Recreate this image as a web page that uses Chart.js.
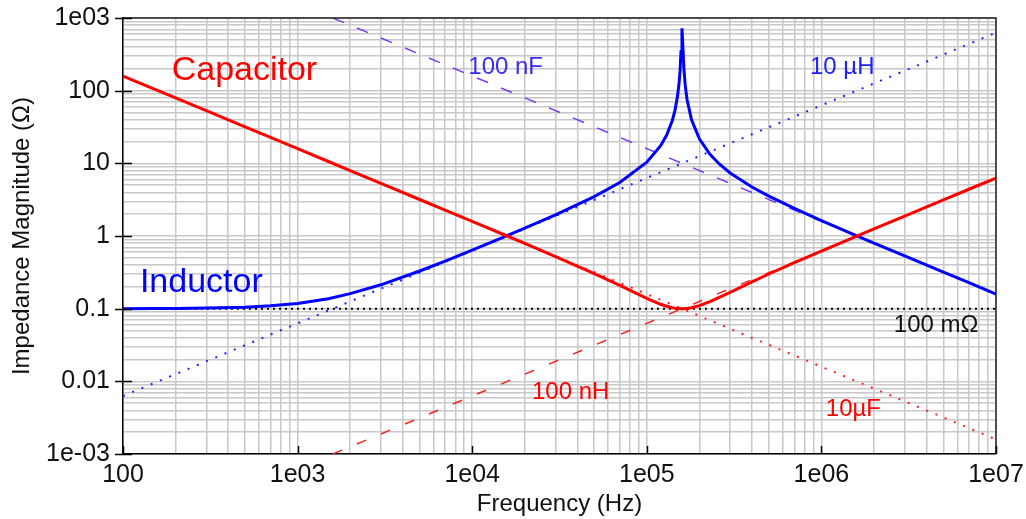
<!DOCTYPE html>
<html>
<head>
<meta charset="utf-8">
<script src="https://cdn.jsdelivr.net/npm/chart.js@4/dist/chart.umd.min.js"></script>
<style>
  html, body { margin: 0; padding: 0; background: #fff; }
  #wrap { width: 1026px; height: 519px; }
</style>
</head>
<body>
<div id="wrap"><canvas id="impChart"></canvas></div>
<script>
// frequency points (Hz) shared by the two real components
const freq = [100, 150, 200, 300, 500, 700, 1e3, 1.5e3, 2e3, 3e3, 5e3, 7e3,
  1e4, 1.5e4, 2e4, 3e4, 5e4, 7e4, 1e5, 1.2e5, 1.3e5, 1.4e5, 1.45e5,
  1.5e5, 1.53e5, 1.55e5, 1.57e5, 1.59e5, 1.61e5, 1.63e5, 1.66e5, 1.7e5, 1.8e5,
  2e5, 2.3e5, 2.6e5, 3e5, 4e5, 5e5, 7e5, 1e6, 1.5e6, 2e6, 3e6, 5e6, 7e6, 1e7];

// |Z| in ohms
const capacitorZ = [159, 106, 79.6, 53.1, 31.8, 22.7, 15.9, 10.6, 7.96, 5.3, 3.18, 2.27,
  1.588, 1.057, 0.789, 0.521, 0.304, 0.209, 0.139, 0.115, 0.108, 0.103, 0.1017,
  0.1007, 0.1003, 0.1001, 0.1, 0.1, 0.1, 0.1001, 0.1004, 0.1009, 0.103,
  0.110, 0.125, 0.143, 0.168, 0.234, 0.30, 0.429, 0.62, 0.937, 1.25, 1.88, 3.14, 4.4, 6.28];
const inductorZ = [0.1, 0.1004, 0.1008, 0.1018, 0.1048, 0.1093, 0.118, 0.137, 0.161, 0.213, 0.33, 0.452,
  0.638, 0.956, 1.28, 1.96, 3.49, 5.45, 10.4, 17.5, 24.5, 38.9, 53.6,
  84.2, 126, 184, 345, 720, 398, 206, 118, 75.7, 40.5,
  21.7, 13.3, 9.79, 7.38, 4.73, 3.54, 2.4, 1.63, 1.073, 0.80, 0.532, 0.319, 0.2275, 0.159];

// ideal element lines (two end points each)
const l10uHFreq = [100, 1e7];
const l10uHZ = [0.00628, 628];
const c100nFFreq = [1592, 1e7];
const c100nFZ = [1000, 0.159];
const c10uFFreq = [100, 1e7];
const c10uFZ = [159, 0.00159];
const l100nHFreq = [1592, 1e7];
const l100nHZ = [0.001, 6.28];
const r100mFreq = [100, 1e7];
const r100mZ = [0.1, 0.1];

// axis decades and their labels
const xDecades = [1e2, 1e3, 1e4, 1e5, 1e6, 1e7];
const xTickLabels = ['100', '1e03', '1e04', '1e05', '1e06', '1e07'];
const yDecades = [1e-3, 1e-2, 1e-1, 1, 10, 100, 1e3];
const yTickLabels = ['1e-03', '0.01', '0.1', '1', '10', '100', '1e03'];

const FONT = "'Liberation Sans', Arial, sans-serif";

function pts(xs, ys) {
  return xs.map((x, i) => ({ x: x, y: ys[i] }));
}

// every 1..9 x 10^k line between the decades
function logTicks(decades) {
  const out = [];
  const max = decades[decades.length - 1];
  decades.forEach(d => {
    for (let k = 1; k <= 9; k++) {
      const v = k * d;
      if (v <= max * 1.0000001) out.push({ value: v });
    }
  });
  return out;
}

function decadeLabel(v, decades, labels) {
  const i = decades.findIndex(d => Math.abs(v - d) < d * 1e-6);
  return i >= 0 ? labels[i] : '';
}

// text written on the plot, placed in data coordinates
const notes = [
  { text: 'Capacitor', x: 190, y: 190, color: '#ff0000', size: 34 },
  { text: 'Inductor', x: 125, y: 0.23, color: '#0000ff', size: 34 },
  { text: '100 nF', x: 9.5e3, y: 210, color: '#3a2cf0', size: 24 },
  { text: '10 µH', x: 8.6e5, y: 210, color: '#2020ff', size: 24 },
  { text: '100 mΩ', x: 2.6e6, y: 0.058, color: '#111111', size: 24 },
  { text: '100 nH', x: 2.2e4, y: 0.007, color: '#ff0000', size: 24 },
  { text: '10µF', x: 1.06e6, y: 0.0041, color: '#ff0000', size: 24 },
];

const extras = {
  id: 'extras',
  afterDatasetsDraw(chart) {
    const { ctx, chartArea: a, scales } = chart;
    ctx.save();
    // frame on top and right
    ctx.strokeStyle = '#222';
    ctx.lineWidth = 1.5;
    ctx.beginPath();
    ctx.moveTo(a.left, a.top);
    ctx.lineTo(a.right, a.top);
    ctx.lineTo(a.right, a.bottom);
    ctx.stroke();
    // decade tick marks
    ctx.strokeStyle = '#000';
    ctx.lineWidth = 1.5;
    xDecades.forEach(d => {
      const px = Math.round(scales.x.getPixelForValue(d)) + 0.5;
      ctx.beginPath();
      ctx.moveTo(px, a.bottom - 8);
      ctx.lineTo(px, a.bottom);
      ctx.stroke();
    });
    yDecades.forEach(d => {
      const py = Math.round(scales.y.getPixelForValue(d)) + 0.5;
      ctx.beginPath();
      ctx.moveTo(a.left - 8, py);
      ctx.lineTo(a.left + 9, py);
      ctx.stroke();
    });
    // labels
    ctx.textAlign = 'left';
    ctx.textBaseline = 'middle';
    notes.forEach(n => {
      ctx.font = n.size + 'px ' + FONT;
      ctx.fillStyle = n.color;
      ctx.fillText(n.text, scales.x.getPixelForValue(n.x), scales.y.getPixelForValue(n.y));
    });
    ctx.restore();
  }
};

const ctx = document.getElementById('impChart');
new Chart(ctx, {
  type: 'line',
  data: {
    datasets: [
      {
        label: 'Capacitor',
        data: pts(freq, capacitorZ),
        borderColor: '#ff0000',
        borderWidth: 3,
        order: 0,
      },
      {
        label: 'Inductor',
        data: pts(freq, inductorZ),
        borderColor: '#0000ff',
        borderWidth: 3,
        order: 1,
      },
      {
        label: '100 mOhm',
        data: pts(r100mFreq, r100mZ),
        borderColor: '#000000',
        borderWidth: 2,
        borderDash: [2, 4],
        order: 2,
      },
      {
        label: '10 uH',
        data: pts(l10uHFreq, l10uHZ),
        borderColor: '#2020ff',
        borderWidth: 2,
        borderDash: [2, 8],
        order: 3,
      },
      {
        label: '100 nF',
        data: pts(c100nFFreq, c100nFZ),
        borderColor: '#7a3cf5',
        borderWidth: 1.5,
        borderDash: [12, 14],
        order: 4,
      },
      {
        label: '10 uF',
        data: pts(c10uFFreq, c10uFZ),
        borderColor: '#ff2020',
        borderWidth: 2,
        borderDash: [2, 8],
        order: 5,
      },
      {
        label: '100 nH',
        data: pts(l100nHFreq, l100nHZ),
        borderColor: '#ff2020',
        borderWidth: 1.5,
        borderDash: [10, 16],
        order: 6,
      },
    ]
  },
  options: {
    responsive: true,
    maintainAspectRatio: false,
    animation: false,
    elements: { point: { radius: 0 }, line: { tension: 0 } },
    layout: { padding: { top: 18, right: 30, left: 0, bottom: 0 } },
    plugins: {
      legend: { display: false },
      tooltip: { enabled: false },
    },
    scales: {
      x: {
        type: 'logarithmic',
        min: 100,
        max: 1e7,
        afterBuildTicks: s => { s.ticks = logTicks(xDecades); },
        afterFit: s => { s.height = 65; s.paddingLeft = 0; s.paddingRight = 0; },
        grid: { color: '#c8c8c8', lineWidth: 1.5, drawTicks: false },
        border: { color: '#000', width: 1.5 },
        ticks: {
          autoSkip: false,
          maxRotation: 0,
          padding: 6,
          color: '#111',
          font: { family: FONT, size: 25 },
          callback: v => decadeLabel(v, xDecades, xTickLabels),
        },
        title: {
          display: true,
          text: 'Frequency (Hz)',
          color: '#111',
          font: { family: FONT, size: 24 },
          padding: { top: 0, bottom: 0 },
        },
      },
      y: {
        type: 'logarithmic',
        min: 1e-3,
        max: 1e3,
        afterBuildTicks: s => { s.ticks = logTicks(yDecades); },
        afterFit: s => { s.width = 123; s.paddingTop = 0; s.paddingBottom = 0; },
        grid: { color: '#c8c8c8', lineWidth: 1.5, drawTicks: false },
        border: { color: '#000', width: 1.5 },
        ticks: {
          autoSkip: false,
          padding: 13,
          color: '#111',
          font: { family: FONT, size: 25 },
          callback: v => decadeLabel(v, yDecades, yTickLabels),
        },
        title: {
          display: true,
          text: 'Impedance Magnitude (Ω)',
          color: '#111',
          font: { family: FONT, size: 24 },
          padding: { top: 8, bottom: 0 },
        },
      },
    },
  },
  plugins: [extras],
});
</script>
</body>
</html>
